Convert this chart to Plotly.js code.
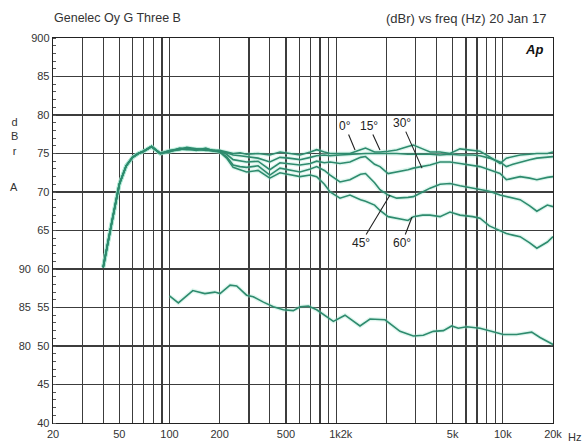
<!DOCTYPE html>
<html><head><meta charset="utf-8">
<script src="https://cdn.plot.ly/plotly-3.0.1.min.js"></script>
<style>html,body{margin:0;padding:0;background:#fff}#chart{width:587px;height:443px}</style>
</head><body><div id="chart"></div>
<script>
// ---- data ----
const freqUpper = [40,42,45,50,55,60,65,70,78,88,100,115,127,145,165,185,200,220,241,265,290,340,400,460,520,607,700,764,850,920,1054,1210,1400,1500,1700,1832,2050,2307,2700,2905,3300,3659,4200,4820,5532,6600,7292,8300,9620,10500,11500,12700,14500,16000,18500,20000];
const deg0  = [60.2,62.8,66.0,71.0,73.4,74.5,75.0,75.3,75.9,75.0,75.3,75.6,75.7,75.5,75.6,
  75.4,75.4,75.2,75.0,75.1,74.9,75.0,74.8,75.2,75.0, 74.8,75.2,75.5,75.2,75.0,75.0,75.0,75.5,75.7,75.2,
  75.2,75.3,75.45,75.9,76.1,75.6,75.2,75.2,75.0,75.6, 75.45,75.3,74.6,73.7,74.4,74.6,74.8,74.9,75.0,75.0, 75.2];
const deg15 = [60.2,62.8,66.0,71.0,73.4,74.5,75.0,75.3,75.9,75.0,75.4,75.5,75.8,75.6,75.5,
  75.4,75.3,75.1,74.8,74.7,74.6,74.4,73.9,74.5,74.4, 74.2,74.5,74.7,74.8,74.7,74.8,74.9,75.0,75.0,75.0,
  75.0,75.0,75.0,74.9,74.9,74.9,74.9,74.8,74.9,74.8, 74.8,74.7,74.4,73.9,73.3,73.6,73.9,74.2,74.4,74.5, 74.6];
const deg30 = [60.2,62.8,66.0,71.0,73.4,74.5,75.0,75.3,75.9,75.0,75.2,75.7,75.6,75.4,75.7,
  75.3,75.3,74.9,74.2,74.0,73.9,74.0,72.9,73.8,73.7, 73.5,73.7,74.0,73.8,73.9,73.7,73.9,74.5,74.6,73.6,
  73.3,72.4,72.6,72.9,73.1,73.3,73.5,73.9,73.9,73.7, 73.5,73.3,72.9,72.4,71.6,71.8,72.0,71.8,71.6,71.9, 72.0];
const deg45 = [60.2,62.8,66.0,71.0,73.4,74.5,75.0,75.3,75.9,75.0,75.4,75.6,75.5,75.6,75.4,
  75.4,75.2,74.6,73.5,73.3,73.2,73.4,72.2,73.1,72.9, 72.6,73.0,73.3,72.8,72.2,71.3,71.6,72.3,72.4,71.2,
  70.3,69.6,69.2,69.3,69.4,70.0,70.5,71.0,71.1,70.8, 70.5,70.3,70.1,69.6,69.4,69.2,69.0,68.2,67.5,68.3, 68.1];
const deg60 = [60.2,62.8,66.0,71.0,73.4,74.5,75.0,75.3,75.9,75.0,75.3,75.5,75.7,75.5,75.5,
  75.3,75.2,74.4,73.2,72.9,72.6,72.8,71.8,72.5,72.3, 72.0,72.2,72.0,71.0,70.0,69.2,69.6,69.0,68.8,68.3,
  67.6,66.8,66.6,66.3,66.8,67.0,67.0,66.8,67.4,67.0, 66.8,66.6,65.6,65.0,64.6,64.4,64.2,63.4,62.7,63.5, 64.2];

const freqLower = [100,113,138,163,187,201,231,253,290,318,366,420,482,553,607,681,764,962,1130,1390,1596,1964,2416,2904,3334,3828,4396,4932,5408,6068,7296,8376,10070,12100,14900,16720,19200,20000];
const lowerCurve = [86.5,85.6,87.2,86.8,87.0,86.8,87.9,87.8,86.6,86.4,85.7,85.1,84.7,84.6,85.1,85.2,84.7,83.2,84.0,82.6,83.5,83.4,81.9,81.3,81.4,81.9,82.0,82.6,82.3,82.5,82.3,82.0,81.5,81.5,81.8,81.1,80.4,80.2];

const xTickVals = [20,30,40,50,60,70,80,90,100,200,300,400,500,600,700,800,900,1000,2000,3000,4000,5000,6000,7000,8000,9000,10000,20000];
const xTickText = ['20','','','50','','','','','100','200','','','500','','','','','\u00a0\u00a0\u00a01k2k','','','','5k','','','','','10k','20k'];
const yTickVals = [40,45,50,55,60,65,70,75,80,85,90];
const yTickText = ['40','45','50','55','60','65','70','75','80','85','900'];
const y2TickVals = [80,85,90];
const y2TickText = ['80','85','90'];

const angleLabels = ['0°','15°','30°','45°','60°'];
const angleFreq = [1298,1832,3274,2104,2852];
const angleDb = [75.45,75.45,73.1,69.6,66.75];
const angleAx = [-10,-11,-20,-29,-10];
const angleAy = [-24,-24,-45,48,26];

// ---- chart ----
const lineColor = '#2e8b6e';
const glow = 'rgba(150,225,200,0.3)';
const font = 'Liberation Sans, Arial, sans-serif';
const upper = [deg0,deg15,deg30,deg45,deg60];
const traces = [];
upper.forEach(v => traces.push({x:freqUpper,y:v,type:'scatter',mode:'lines',line:{color:glow,width:4},hoverinfo:'skip',showlegend:false}));
traces.push({x:freqLower,y:lowerCurve,yaxis:'y2',type:'scatter',mode:'lines',line:{color:glow,width:4},hoverinfo:'skip',showlegend:false});
upper.forEach((v,i) => traces.push({x:freqUpper,y:v,type:'scatter',mode:'lines',name:angleLabels[i],line:{color:lineColor,width:1.6},showlegend:false}));
traces.push({x:freqLower,y:lowerCurve,yaxis:'y2',type:'scatter',mode:'lines',line:{color:lineColor,width:1.6},showlegend:false});

const ML = 31, PW = 522;
const px = v => (v - ML) / PW;
const annotations = [
  {xref:'paper',yref:'paper',x:px(548),y:1,yshift:20,xanchor:'right',yanchor:'middle',showarrow:false,text:'(dBr) vs freq (Hz) 20 Jan 17',font:{family:font,size:13,color:'#333'}},
  {xref:'paper',yref:'paper',x:px(545),y:0.969,xanchor:'right',yanchor:'middle',showarrow:false,text:'<b><i>Ap</i></b>',font:{family:font,size:13,color:'#111'}},
  {xref:'paper',yref:'paper',x:px(14),y:0.743,xanchor:'center',yanchor:'middle',showarrow:false,text:'d<br>B<br>r',font:{family:font,size:11,color:'#333'}},
  {xref:'paper',yref:'paper',x:px(14),y:0.613,xanchor:'center',yanchor:'middle',showarrow:false,text:'A',font:{family:font,size:11,color:'#333'}},
  {xref:'paper',yref:'paper',x:px(574),y:-0.036,xanchor:'center',yanchor:'middle',showarrow:false,text:'Hz',font:{family:font,size:11,color:'#333'}}
];
angleLabels.forEach((t,i) => annotations.push({
  x:Math.log10(angleFreq[i]), y:angleDb[i], xref:'x', yref:'y', text:t, showarrow:true,
  arrowhead:0, arrowwidth:1.1, arrowcolor:'#222', ax:angleAx[i], ay:angleAy[i], standoff:0,
  font:{family:font,size:12,color:'#222'}
}));

const axisCommon = {showgrid:true,gridcolor:'#3c3c3c',gridwidth:1.3,zeroline:false,showline:true,linecolor:'#222',linewidth:1.3,mirror:true,ticks:'',tickfont:{family:font,size:11,color:'#333'}};

const layout = {
  width:587,height:443,margin:{l:ML,r:34,t:38,b:20},
  paper_bgcolor:'#fff',plot_bgcolor:'#fff',showlegend:false,
  title:{text:'Genelec Oy G Three B',x:54/587,xanchor:'left',xref:'container',y:1-18/443,yanchor:'middle',yref:'container',font:{family:font,size:12.5,color:'#333'}},
  xaxis:Object.assign({},axisCommon,{type:'log',range:[Math.log10(20),Math.log10(20000)],domain:[px(53),1],tickmode:'array',tickvals:xTickVals,ticktext:xTickText}),
  yaxis:Object.assign({},axisCommon,{range:[40,90],tickmode:'array',tickvals:yTickVals,ticktext:yTickText,
    minor:{dtick:1,tick0:40,ticks:'inside',ticklen:3,tickcolor:'#555',tickwidth:1,showgrid:false}}),
  yaxis2:{overlaying:'y',anchor:'free',position:0,side:'left',range:[70,120],tickmode:'array',tickvals:y2TickVals,ticktext:y2TickText,showgrid:false,zeroline:false,showline:false,ticks:'',tickfont:{family:font,size:11,color:'#333'}},
  annotations:annotations
};
Plotly.newPlot('chart',traces,layout,{displayModeBar:false,staticPlot:true});
</script></body></html>
